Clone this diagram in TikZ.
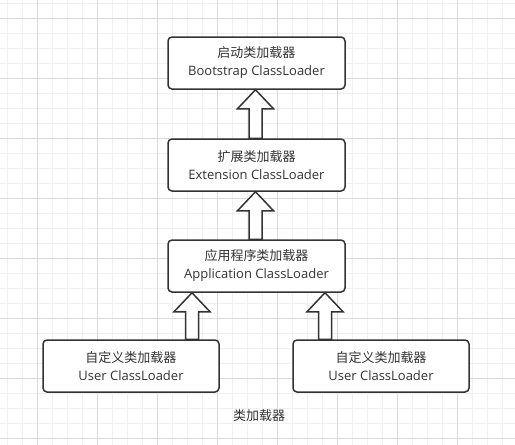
\documentclass[tikz,border=0pt]{standalone}
\usepackage{fontspec}
\setmainfont{Open Sans}
\newfontfamily\cjk{Noto Sans CJK SC}
\usetikzlibrary{calc}
\definecolor{edge}{HTML}{333333}
\definecolor{txt}{HTML}{333333}
\definecolor{gmajor}{HTML}{DADADA}
\definecolor{gminor}{HTML}{F0F0F0}
\tikzset{
  box/.style={draw=edge, line width=1.5pt, rounded corners=4pt, fill=white,
    minimum width=177pt, minimum height=52pt, inner sep=0pt, align=center,
    text=txt, font=\fontsize{13pt}{18pt}\selectfont},
  barrow/.style={draw=edge, line width=1.5pt, fill=white, line join=miter},
  caption/.style={text=txt, font=\cjk\fontsize{13pt}{16pt}\selectfont}
}
\newcommand\blockup[2]{%
  \draw[barrow] let \p1=(#1), \p2=(#2) in
    (\x1-6.5pt,\y1) -- (\x1-6.5pt,\y2-19pt) -- (\x1-18pt,\y2-19pt) -- (\x1,\y2)
    -- (\x1+18pt,\y2-19pt) -- (\x1+6.5pt,\y2-19pt) -- (\x1+6.5pt,\y1) -- cycle;}
\begin{document}
\begin{tikzpicture}[x=1pt,y=-1pt]
\useasboundingbox (0,0) rectangle (515,445);
\fill[white] (0,0) rectangle (515,445);
% grid
\foreach \k in {0,...,34} {
  \draw[gminor, line width=1pt] (7+15*\k,0) -- (7+15*\k,445);
}
\foreach \k in {0,...,29} {
  \draw[gminor, line width=1pt] (0,3+15*\k) -- (515,3+15*\k);
}
\foreach \k in {0,...,8} {
  \draw[gmajor, line width=1pt] (37+60*\k,0) -- (37+60*\k,445);
}
\foreach \k in {0,...,7} {
  \draw[gmajor, line width=1pt] (0,18+60*\k) -- (515,18+60*\k);
}
% node positions (drawn after arrows)
\path (256.5,63) coordinate (bootc) (256.5,165) coordinate (extc)
      (256.5,266) coordinate (appc) (131,366) coordinate (u1c) (381,366) coordinate (u2c);
\node[box] (boot) at (bootc) {{\cjk 启动类加载器}\\Bootstrap ClassLoader};
\node[box] (ext) at (extc) {{\cjk 扩展类加载器}\\Extension ClassLoader};
\node[box] (app) at (appc) {{\cjk 应用程序类加载器}\\Application ClassLoader};
\node[box, minimum width=176pt] (user1) at (u1c) {{\cjk 自定义类加载器}\\User ClassLoader};
\node[box, minimum width=176pt] (user2) at (u2c) {{\cjk 自定义类加载器}\\User ClassLoader};
% arrow anchor coordinates
\coordinate (a1) at ($(ext.north)+(-1,0)$);
\coordinate (a2) at ($(app.north)+(-1,0)$);
\coordinate (a3) at ($(user1.north)+(61,0)$);
\coordinate (a4) at ($(user2.north)+(-56,0)$);
\blockup{a1}{boot.south}
\blockup{a2}{ext.south}
\blockup{a3}{app.south}
\blockup{a4}{app.south}
\node[caption] (cap) at (259,416) {类加载器};
\end{tikzpicture}
\end{document}
